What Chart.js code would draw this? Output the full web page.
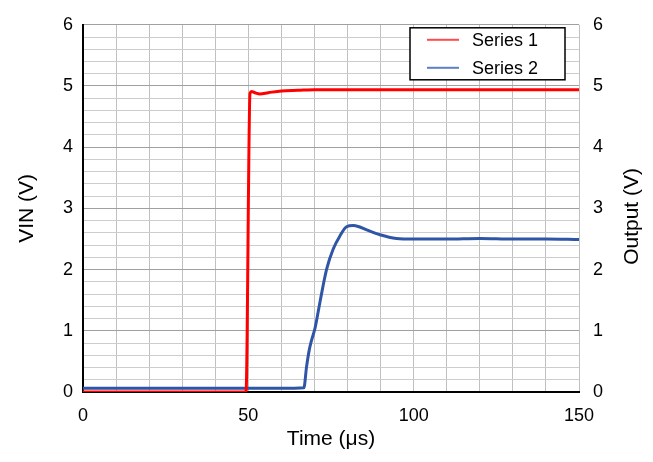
<!DOCTYPE html>
<html>
<head>
<meta charset="utf-8">
<script src="https://cdn.jsdelivr.net/npm/chart.js@4"></script>
<style>
  html, body { margin: 0; padding: 0; background: #fff; }
  .chart { position: relative; width: 653px; height: 462px; }
</style>
</head>
<body>
<div class="chart"><canvas id="myChart"></canvas></div>
<script>
// values
const vinTime = [0, 20, 40, 49.3, 50.5, 51, 52, 53.5, 56, 60, 65, 70, 80, 100, 120, 150];
const vinValues = [0, 0, 0, 0, 4.88, 4.91, 4.89, 4.87, 4.89, 4.92, 4.93, 4.94, 4.94, 4.94, 4.94, 4.94];

const outTime = [0, 20, 40, 60, 66.8, 67.6, 68.4, 69.1, 70.2, 71.7, 73.7, 75.7, 77.7, 79.7, 81.7, 83.5, 85.8, 89.8, 94.8, 100, 110, 120, 130, 140, 150];
const outValues = [0.06, 0.06, 0.06, 0.06, 0.07, 0.41, 0.68, 0.84, 1.05, 1.48, 2.01, 2.34, 2.55, 2.70, 2.72, 2.70, 2.65, 2.57, 2.51, 2.50, 2.50, 2.51, 2.50, 2.50, 2.49];

const seriesNames = ["Series 1", "Series 2"];
const xTickLabels = [0, 50, 100, 150];
const yTickLabels = [0, 1, 2, 3, 4, 5, 6];

const family = "Arial, 'Liberation Sans', Helvetica, sans-serif";
const tickFont = { family: family, size: 18 };
const titleFont = { family: family, size: 21 };

function toPoints(xs, ys) {
  return xs.map((x, i) => ({ x: x, y: ys[i] }));
}

function isWhole(v) {
  return Math.abs(v - Math.round(v)) < 1e-6;
}

// legend box inside the plot area + right axis title (reads bottom to top)
const boxLegend = {
  id: "boxLegend",
  afterDraw(chart) {
    const c = chart.ctx;
    const area = chart.chartArea;
    const left = area.right - 169;
    const top = area.top + 3;
    const w = 155, h = 52;
    const legendColors = ["#ff4b4b", "#5a82c2"];
    c.save();
    c.fillStyle = "#fff";
    c.fillRect(left, top, w, h);
    c.strokeStyle = "#000";
    c.lineWidth = 1.5;
    c.strokeRect(left, top, w, h);
    c.font = "18px " + family;
    c.textBaseline = "middle";
    chart.data.datasets.forEach((ds, i) => {
      const y = top + 12 + i * 28;
      c.strokeStyle = legendColors[i];
      c.lineWidth = 2;
      c.beginPath();
      c.moveTo(left + 17, y);
      c.lineTo(left + 49, y);
      c.stroke();
      c.fillStyle = "#000";
      c.fillText(ds.label, left + 62, y + 1);
    });

    c.translate(632, (area.top + area.bottom) / 2 + 8);
    c.rotate(-Math.PI / 2);
    c.font = "21px " + family;
    c.textAlign = "center";
    c.fillText("Output (V)", 0, 0);
    c.restore();
  }
};

const ctx = document.getElementById("myChart").getContext("2d");

new Chart(ctx, {
  type: "line",
  data: {
    datasets: [
      {
        label: seriesNames[0],
        data: toPoints(vinTime, vinValues),
        borderColor: "#ff0000",
        borderWidth: 3,
        pointRadius: 0,
        cubicInterpolationMode: "monotone",
        yAxisID: "y"
      },
      {
        label: seriesNames[1],
        data: toPoints(outTime, outValues),
        borderColor: "#2f56a6",
        borderWidth: 3,
        pointRadius: 0,
        cubicInterpolationMode: "monotone",
        yAxisID: "y"
      }
    ]
  },
  options: {
    responsive: true,
    maintainAspectRatio: false,
    animation: false,
    layout: { padding: { top: 19, left: 0, right: 0, bottom: 0 } },
    plugins: {
      legend: { display: false },
      tooltip: { enabled: false }
    },
    scales: {
      x: {
        type: "linear",
        min: 0,
        max: 150,
        afterFit: (s) => { s.height = 70; },
        ticks: {
          stepSize: 10,
          autoSkip: false,
          maxRotation: 0,
          padding: 13,
          color: "#000",
          font: tickFont,
          callback: (v) => (xTickLabels.includes(v) ? v : "")
        },
        grid: { color: "#c0c0c0", lineWidth: 1, drawTicks: false },
        border: { color: "#000", width: 2 },
        title: {
          display: true,
          text: "Time (μs)",
          color: "#000",
          font: titleFont,
          padding: { top: 0, bottom: 10 }
        }
      },
      y: {
        position: "left",
        min: 0,
        max: 6,
        afterFit: (s) => { s.width = 83; },
        ticks: {
          stepSize: 0.2,
          autoSkip: false,
          padding: 10,
          color: "#000",
          font: tickFont,
          callback: (v) => (isWhole(v) && yTickLabels.includes(Math.round(v)) ? Math.round(v) : "")
        },
        grid: {
          drawTicks: false,
          lineWidth: 1,
          color: (c) => (isWhole(c.tick.value) ? "#a0a0a0" : "#cdcdcd")
        },
        border: { color: "#000", width: 2 },
        title: {
          display: true,
          text: "VIN (V)",
          color: "#000",
          font: titleFont,
          padding: { top: 15, bottom: 0 }
        }
      },
      y2: {
        position: "right",
        min: 0,
        max: 6,
        afterFit: (s) => { s.width = 74; },
        ticks: {
          stepSize: 1,
          padding: 14,
          color: "#000",
          font: tickFont
        },
        grid: { display: false, drawTicks: false },
        border: { display: false },
        title: { display: false }
      }
    }
  },
  plugins: [boxLegend]
});
</script>
</body>
</html>
